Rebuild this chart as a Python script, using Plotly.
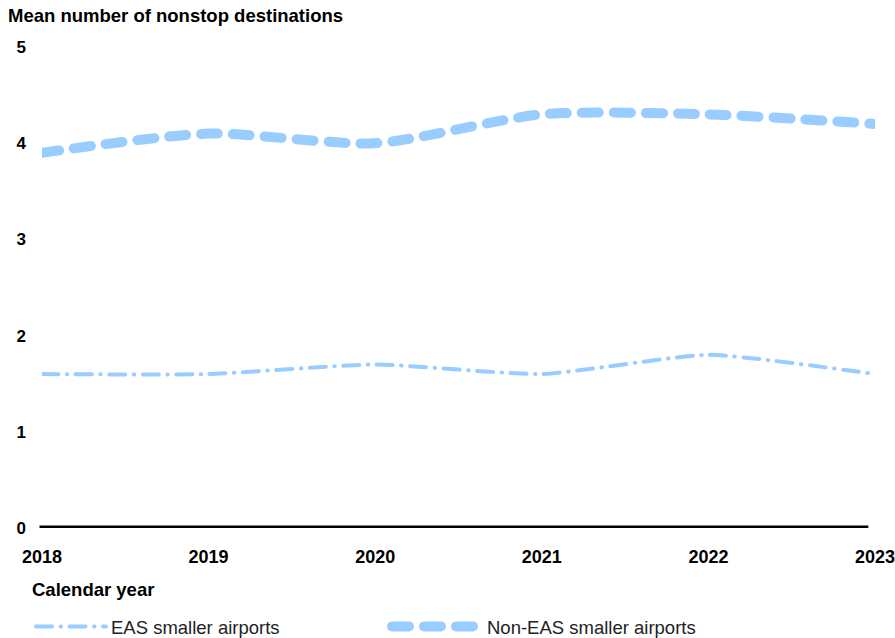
import plotly.graph_objects as go

# Calendar years and mean nonstop destinations per airport group
years = [2018, 2019, 2020, 2021, 2022, 2023]
eas_smaller = [1.6, 1.6, 1.7, 1.6, 1.8, 1.6]
non_eas_smaller = [3.9, 4.1, 4.0, 4.3, 4.3, 4.2]
y_ticks = [0, 1, 2, 3, 4, 5]

LINE_BLUE = "#99ccff"
FONT = "Arial, Liberation Sans, sans-serif"

PLOT_L, PLOT_R, PLOT_T, PLOT_B = 42, 875, 47, 528
PW, PH = PLOT_R - PLOT_L, PLOT_B - PLOT_T

fig = go.Figure()

fig.add_trace(go.Scatter(
    x=years, y=eas_smaller, mode="lines", name="EAS smaller airports",
    line=dict(color=LINE_BLUE, width=4, shape="spline", smoothing=0.5,
              dash="16px,8.5px,0.5px,8.5px"),
    legend="legend", hoverinfo="skip",
))
fig.add_trace(go.Scatter(
    x=years, y=non_eas_smaller, mode="lines", name="Non-EAS smaller airports",
    line=dict(color=LINE_BLUE, width=10, shape="spline", smoothing=0.7,
              dash="17px,15px"),
    legend="legend2", hoverinfo="skip",
))

# Heavy baseline along zero
fig.add_shape(type="line", xref="paper", yref="y", x0=-0.003, x1=0.992, y0=0, y1=0,
              line=dict(color="black", width=5), layer="below")

fig.update_layout(
    width=895, height=638,
    margin=dict(l=PLOT_L, r=895 - PLOT_R, t=PLOT_T, b=638 - PLOT_B, autoexpand=False),
    paper_bgcolor="white", plot_bgcolor="white",
    font=dict(family=FONT, color="black"),
    title=dict(text="<b>Mean number of nonstop destinations</b>",
               x=8 / 895, xref="container", xanchor="left",
               y=1 - 16 / 638, yref="container", yanchor="middle",
               font=dict(size=18.5, family=FONT, color="black")),
    xaxis=dict(range=[2018, 2023], tickvals=years, ticktext=[f"<b>{y}</b>" for y in years],
               showgrid=False, zeroline=False, showline=False, ticks="",
               ticklabeloverflow="allow",
               ticklabelstandoff=16, tickfont=dict(size=18, family=FONT, color="black")),
    yaxis=dict(range=[0, 5], tickvals=y_ticks, ticktext=[f"<b>{t}</b>" for t in y_ticks],
               showgrid=False, zeroline=False, showline=False, ticks="",
               ticklabelstandoff=15, tickfont=dict(size=17, family=FONT, color="black")),
    showlegend=True,
    legend=dict(orientation="h", x=(31 - PLOT_L) / PW, xanchor="left",
                y=(PLOT_B - 627) / PH, yanchor="middle",
                font=dict(size=18.5, family=FONT, color="#222222"),
                itemwidth=70, bgcolor="rgba(0,0,0,0)"),
    legend2=dict(orientation="h", x=(387 - PLOT_L) / PW, xanchor="left",
                 y=(PLOT_B - 627) / PH, yanchor="middle",
                 font=dict(size=18.5, family=FONT, color="#222222"),
                 itemwidth=90, bgcolor="rgba(0,0,0,0)"),
    annotations=[dict(text="<b>Calendar year</b>", xref="paper", yref="paper",
                      x=(30 - PLOT_L) / PW, y=(PLOT_B - 589) / PH,
                      xanchor="left", yanchor="middle", showarrow=False,
                      font=dict(size=18.5, family=FONT, color="black"))],
)

round_caps = """
var s = document.createElement('style');
s.textContent = '.js-line { stroke-linecap: round; }';
document.head.appendChild(s);
"""

fig.write_html("out.html", post_script=round_caps)
